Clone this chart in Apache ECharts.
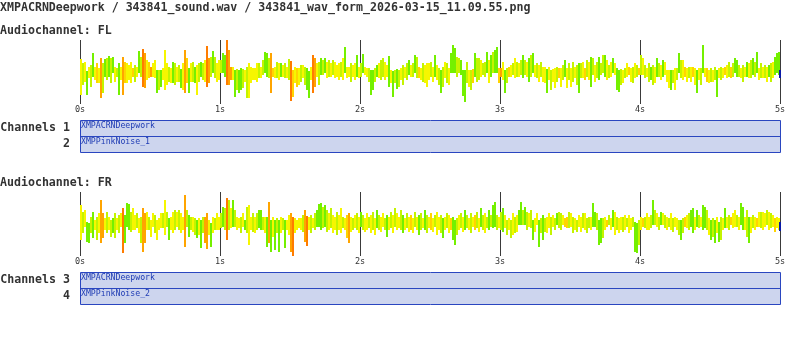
<!DOCTYPE html>
<html><head><meta charset="utf-8">
<script src="https://cdn.jsdelivr.net/npm/echarts@6/dist/echarts.min.js"></script>
<style>html,body{margin:0;padding:0;background:#fff}#c{width:800px;height:362px}</style>
</head><body><div id="c"></div>
<script>
// ---------- data ----------
const titleText = 'XMPACRNDeepwork / 343841_sound.wav / 343841_wav_form_2026-03-15_11.09.55.png';
const channelNames = ['FL', 'FR'];
const trackNumbers = [[1, 2], [3, 4]];
const trackNames = [['XMPACRNDeepwork', 'XMPPinkNoise_1'], ['XMPACRNDeepwork', 'XMPPinkNoise_2']];
const durationSec = 5;
const tickLabels = ['0s', '1s', '2s', '3s', '4s', '5s'];

// per-column peak envelope (max above / min below centre), 350 columns over 5 s
const flMax = [
13,9,10,1,5,7,19,5,9,4, 14,9,13,14,16,14,15,5,4,9, 5,15,10,9,7,10,4,7,5,21, 15,23,19,12,10,5,9,12,2,2,
2,4,22,9,5,4,10,9,5,7, 3,9,22,14,4,9,10,5,7,9, 10,9,12,26,14,15,21,15,9,12, 12,19,17,32,22,5,5,2,3,2,
4,3,2,5,9,5,4, 4,9,9,5,12,20,19,14,19,4, 5,10,9,9,7,9,5,13,11,2, 5,4,4,7,7,5,4,1,5,17,
14,9,10,14,12,14,10,12,9,12, 10,7,9,10,14,25,5,5,9,7, 9,17,5,9,18,5,4,4,2,2, 4,7,9,12,14,10,7,16,2,1,
2,3,2,4,7,5,9,12,7,9, 17,15,5,4,9,7,9, 9,10,5,17,7,4,2,5,10,9, 4,19,27,24,15,14,12,2,2,10,
2,2,3,19,14,14,12,9,10,20, 12,17,20,22,25,4,4,10,2,4, 5,7,9,14,10,9,12,17,12,10, 14,17,19,7,9,7,10,5,5,3,
5,2,3,4,5,4,4,7,12,4, 9,4,10,5,7,9,9,10,4,12, 10,15,14,7,10,15,9,17, 17,12,7,10,14,9,4,2,3,2,
4,9,5,4,5,9,7,4,17,14, 7,4,9,5,7,5,14,9,7,12, 10,2,2,2,2,4,4,19,12,12, 5,4,5,5,5,4,2,4,4,27,
4,4,2,4,2,5,2,4,5,4, 5,7,10,5,9,14,12,7,4,7, 5,10,9,12,14,10,20,4,9,5, 7,5,7,9,10,15,19,20];
const flMin = [
-23,-13,-10,-23,-6,-15,-5,-8,-11,-11, -26,-21,-5,-8,-5,-11,-1,-10,-5,-23, -8,-23,-11,-11,-8,-11,-5,-10,-5,-1, -5,-15,-16,-8,-6,-5,-5,-6,-21,-18,
-15,-8,-18,-13,-10,-11,-11,-13,-10,-10, -16,-18,-21,-11,-21,-10,-10,-11,-23,-10, -5,-8,-10,-15,-11,-5,-1,-6,-10,-8, -1,-1,-5,-13,-13,-8,-8,-25,-18,-21,
-18,-16,-10,-26,-26,-11,-8, -8,-10,-6,-6,-3,-1,-5,-6,-21,-5, -6,-6,-8,-5,-5,-6,-6,-8,-29,-25, -11,-15,-13,-10,-6,-13,-18,-26,-8,-21,
-15,-5,-13,-3,-3,-1,-6,-5,-5,-3, -6,-5,-8,-5,-8,-1,-6,-5,-10,-5, -8,-5,-6,-5,-1,-3,-5,-10,-23,-18, -10,-5,-6,-8,-5,-8,-5,-15,-11,-25,
-11,-17,-15,-8,-13,-6,-8,-3,-5,-5, -1,-6,-6,-8,-10,-11,-15, -8,-5,-10,-5,-8,-13,-21,-15,-6,-11, -13,-1,-1,-1,-5,-1,-3,-24,-30,-11,
-15,-18,-11,-5,-10,-8,-5,-3,-5,-1, -11,-5,-1,-1,-1,-11,-5,-8,-21,-11, -5,-5,-3,-6,-5,-5,-3,-6,-3,-5, -10,-5,-1,-5,-6,-10,-5,-10,-11,-21,
-8,-18,-10,-16,-10,-6,-15,-8,-5,-16, -8,-15,-10,-6,-13,-21,-6,-6,-8,-5, -8,-15,-3,-10,-6,-8,-3,-1, -5,-8,-6,-5,-1,-3,-18,-20,-13,-11,
-6,-5,-3,-10,-11,-6,-5,-3,-3,-3, -6,-5,-10,-8,-13,-11,-5,-5,-8,-5, -3,-10,-16,-18,-11,-18,-8,-1,-6,-8, -5,-10,-6,-10,-5,-13,-21,-8,-13,-1,
-5,-10,-11,-10,-10,-8,-25,-6,-8,-6, -3,-6,-5,-6,-5,-1,-5,-5,-6,-10, -5,-5,-6,-6,-3,-5,-1,-8,-6,-6, -6,-10,-5,-10,-6,-3,-1,-3];
// spectral tone per column: 0 green .. 5 dark orange
const flTone = [
2,1,2,0,2,1,0,2,3,2, 4,1,0,1,0,1,0,2,1,0, 2,4,3,2,2,2,3,1,2,0, 1,5,4,2,3,4,2,2,0,1,
0,2,2,2,1,2,0,1,2,1, 0,2,4,3,0,2,1,0,2,1, 0,1,2,5,4,1,0,1,2,2, 1,0,0,5,4,4,2,0,1,0,
0,1,2,1,2,2,2, 2,2,1,2,1,0,0,1,4,3, 2,1,2,0,2,1,2,1,5,3, 2,3,2,1,2,1,0,0,2,5,
4,2,1,0,1,0,2,1,2,1, 2,2,2,1,2,0,2,2,1,2, 2,0,2,1,0,2,2,1,0,0, 1,0,2,1,1,2,2,0,2,0,
1,0,1,2,1,2,1,0,2,1, 0,1,3,2,1,2,2, 2,1,2,0,2,1,0,1,2,1, 2,0,0,0,1,1,0,0,0,1,
2,1,3,0,1,1,2,1,1,0, 2,0,1,0,0,3,4,2,0,1, 3,2,1,2,1,2,1,0,1,2, 0,1,0,2,1,2,1,2,2,0,
2,1,2,2,1,3,2,1,0,2, 1,2,1,2,1,0,1,2,3,1, 2,0,1,2,1,0,1,1, 0,2,1,2,0,2,0,0,1,2,
1,2,3,2,1,2,1,3,1,2, 1,2,1,0,1,2,0,1,2,0, 2,2,2,0,1,2,1,0,1,2, 3,2,1,2,3,2,0,2,1,0,
2,3,2,1,2,1,0,2,1,2, 3,2,1,3,1,0,0,1,2,1, 2,0,2,1,0,1,0,2,1,2, 1,2,0,1,2,0,0,0];

const frMax = [
19,12,14,2,1,7,12,4,7,11, 24,11,6,12,7,4,6,11,6,9, 11,16,9,21,20,12,16,9,11,6, 7,16,11,12,7,4,11,9,4,6,
11,11,24,12,6,7,12,14,12,14, 11,7,29,14,9,7,7,6,4,6, 4,7,7,11,4,1,7,6,11,7, 11,17,16,26,24,16,24,14,7,6,
7,11,4,17,19,7,11,7,11,14, 14,7,7,7,22,4,7,4,6,4, 7,6,4,4,9,11,7,6,4,6, 6,9,14,8,7,9,6,11,14,20,
21,17,19,14,11,16,9,7,12,9, 16,7,6,9,11,7,6,9,11,7, 12,9,6,11,7,9,12,6,14,9, 7,11,6,9,7,12,9,16,11,7,
14,9,6,11,7,9,6,12,7,9, 11,6,14,9,7,11,6,9,12,7, 9,6,7,11,9,6,7,4,6,9, 11,7,14,9,6,11,7,9,12,6,
16,9,11,7,14,9,19,22,9,7, 12,16,9,4,6,4,11,7,9,14, 22,14,17,12,11,14,4,6,11,4, 6,9,6,7,11,7,9,6,11,12,
11,9,6,7,12,11,7,6,4,9, 7,11,11,6,7,7,21,12,11,4, 6,6,7,4,9,6,14,12,7,6, 7,7,9,6,9,6,7,2,1,4,
7,6,7,11,7,9,24,14,11,7, 12,11,9,7,6,11,6,7,6,4, 4,6,7,9,11,14,16,7,14,9, 7,19,17,14,6,4,6,4,7,2,
7,6,16,7,9,7,11,14,9,7, 21,17,7,14,7,7,9,7,6,12, 12,12,11,14,12,11,9,6,7,6];
const frMin = [
-16,-9,-3,-18,-19,-9,-14,-6,-16,-9, -19,-14,-6,-9,-6,-13,-9,-14,-6,-9, -3,-29,-19,-3,-6,-8,-6,-6,-4,-9, -19,-28,-19,-6,-6,-13,-3,-9,-16,-6,
-4,-4,-11,-3,-16,-6,-9,-6,-3,-6, -9,-6,-23,-3,-13,-6,-8,-11,-14,-11, -24,-9,-19,-25,-11,-23,-9,-6,-6,-6, -4,-3,-6,-16,-6,-4,-3,-3,-6,-4,
-9,-3,-6,-9,-21,-6,-8,-9,-6,-4, -6,-6,-9,-23,-19,-28,-13,-26,-9,-28, -9,-6,-24,-6,-11,-28,-32,-9,-6,-4, -6,-8,-18,-22,-6,-9,-4,-6,-3,-3,
-6,-4,-3,-8,-6,-4,-9,-6,-11,-6, -9,-4,-6,-14,-19,-8,-6,-4,-6,-9, -3,-6,-8,-6,-4,-9,-6,-11,-4,-6, -8,-3,-6,-13,-6,-4,-9,-3,-6,-4,
-6,-9,-6,-4,-8,-6,-9,-3,-6,-11, -6,-4,-6,-9,-4,-6,-8,-3,-11,-6, -9,-14,-6,-4,-9,-6,-16,-21,-11,-6, -4,-8,-6,-4,-6,-9,-3,-6,-4,-8,
-3,-6,-9,-4,-6,-3,-4,-3,-6,-4, -6,-8,-4,-11,-6,-14,-11,-9,-8,-1, -1,-1,-1,-6,-3,-4,-16,-8,-1,-23, -9,-16,-8,-9,-4,-11,-3,-6,-1,-4,
-6,-1,-3,-4,-4,-3,-9,-6,-8,-3, -8,-4,-6,-9,-4,-6,-3,-3,-6,-21, -19,-14,-6,-3,-1,-6,-3,-11,-6,-9, -6,-8,-6,-3,-9,-6,-3,-28,-29,-21,
-6,-3,-4,-6,-6,-4,-1,-1,-3,-6, -1,-1,-4,-6,-3,-6,-8,-3,-6,-11, -16,-9,-3,-4,-6,-3,-9,-6,-3,-4, -3,-6,-4,-6,-11,-16,-13,-19,-9,-18,
-16,-6,-4,-4,-6,-1,-4,-3,-3,-6, -1,-6,-6,-13,-19,-9,-4,-6,-3,-3, -4,-6,-3,-1,-6,-4,-3,-8,-4,-6];
const frTone = [
2,1,2,0,0,1,0,2,1,2, 4,4,2,1,2,1,0,1,2,1, 2,5,0,0,0,1,2,2,1,2, 1,4,4,2,1,2,2,1,2,2,
2,1,2,1,0,2,2,1,2,1, 2,2,4,1,0,1,2,1,0,2, 0,1,4,4,2,0,2,1,2,2, 1,0,1,5,1,2,0,1,2,2,
1,2,0,1,2,2,1,2,1,0, 0,1,2,0,4,0,2,0,1,0, 2,1,0,2,2,4,5,2,2,2, 2,1,4,5,2,1,2,1,0,0,
0,1,0,1,2,1,2,2,1,2, 2,1,2,3,4,2,1,2,1,2, 0,1,2,2,1,2,1,2,0,1, 2,2,1,0,2,1,2,1,2,2,
1,0,2,1,2,3,2,1,2,0, 1,2,0,1,2,3,2,1,2,2, 1,0,2,1,2,3,0,0,1,2, 1,2,0,1,2,1,2,3,1,2,
0,1,2,1,0,1,0,0,1,2, 1,0,2,1,2,1,2,1,2,0, 0,1,0,1,2,1,0,2,2,0, 1,0,1,2,2,1,2,1,0,1,
1,2,3,3,1,2,1,2,1,2, 2,1,2,1,1,2,0,0,1,0, 0,1,2,3,1,2,0,2,1,2, 2,1,2,1,2,2,1,0,0,1,
2,3,1,2,2,1,0,1,2,1, 0,2,1,2,1,2,1,2,2,1, 0,1,3,2,1,0,0,2,0,1, 2,0,0,1,2,0,1,0,2,0,
1,2,0,2,1,3,2,2,1,2, 0,0,2,1,0,2,1,2,3,2, 1,2,2,1,2,1,2,3,2,2];
// final sample marker (max, min) per channel
const endMax = [2, 2];
const endMin = [-6, -7];

// ---------- styling / layout ----------
const palette = ['#74f000', '#c4f400', '#f6f600', '#ffd400', '#ffa400', '#ff7c00'];
const mono = '"DejaVu Sans Mono", monospace';
const textColor = '#333333';
const boxFill = '#cdd5ee', boxStroke = '#2a46c0', boxText = '#1f3cb4';
const sections = [
  {max: flMax, min: flMin, tone: flTone, top: 40},
  {max: frMax, min: frMin, tone: frTone, top: 192}
];
const plotLeft = 80, plotWidth = 700, plotHeight = 64, amp = 32;

const grids = [], xAxes = [], yAxes = [], series = [], graphics = [];
graphics.push({type: 'text', left: 0, top: 2, style: {text: titleText, font: 'bold 11.6px ' + mono, fill: textColor}});

sections.forEach((s, k) => {
  const n = s.max.length, step = durationSec / n;
  grids.push({left: plotLeft, top: s.top, width: plotWidth, height: plotHeight});
  xAxes.push({
    type: 'value', gridIndex: k, min: 0, max: durationSec, interval: 1,
    axisLine: {show: false}, axisTick: {show: false},
    splitLine: {show: true, lineStyle: {color: '#3a3a3a', width: 1}},
    axisLabel: {margin: 1, fontSize: 8.5, fontFamily: mono, color: textColor,
      formatter: v => tickLabels[Math.round(v)]}
  });
  yAxes.push({type: 'value', gridIndex: k, min: -amp, max: amp, show: false});
  series.push({
    type: 'custom', xAxisIndex: k, yAxisIndex: k, silent: true, animation: false,
    data: s.max.map((v, i) => [i * step, v, s.min[i], s.tone[i]]),
    encode: {x: 0, y: [1, 2]},
    renderItem: (params, api) => {
      const a = api.coord([api.value(0), api.value(1)]);
      const b = api.coord([api.value(0), api.value(2)]);
      const w = api.size([step, 0])[0];
      return {type: 'rect', shape: {x: a[0], y: a[1], width: w, height: Math.max(1, b[1] - a[1])},
        style: {fill: palette[api.value(3)]}};
    }
  });
  series.push({
    type: 'custom', xAxisIndex: k, yAxisIndex: k, silent: true, animation: false,
    data: [[durationSec, endMax[k], endMin[k]]],
    renderItem: (params, api) => {
      const a = api.coord([api.value(0), api.value(1)]);
      const b = api.coord([api.value(0), api.value(2)]);
      return {type: 'rect', shape: {x: a[0] - 1, y: a[1], width: 2, height: b[1] - a[1]}, style: {fill: '#0a1aa8'}};
    }
  });
  // channel header
  const headY = s.top - 9;
  graphics.push({type: 'text', left: 0, top: headY - 6, style: {text: 'Audiochannel: ' + channelNames[k], font: 'bold 11.6px ' + mono, fill: textColor}});
  // track box
  const bt = s.top + 80;
  graphics.push({type: 'rect', shape: {x: plotLeft + 0.5, y: bt + 0.5, width: plotWidth, height: 32},
    style: {fill: boxFill, stroke: boxStroke, lineWidth: 1}});
  graphics.push({type: 'line', shape: {x1: plotLeft, y1: bt + 16.5, x2: plotLeft + plotWidth, y2: bt + 16.5},
    style: {stroke: boxStroke, lineWidth: 1}});
  trackNames[k].forEach((nm, j) => {
    graphics.push({type: 'text', x: plotLeft + 1, y: bt + 6 + 16 * j,
      style: {text: nm, font: '8.2px ' + mono, fill: boxText, verticalAlign: 'middle'}});
    graphics.push({type: 'text', x: 70, y: bt + 7.5 + 16 * j,
      style: {text: (j === 0 ? 'Channels ' : '') + trackNumbers[k][j], font: 'bold 11.6px ' + mono,
        fill: textColor, align: 'right', verticalAlign: 'middle'}});
  });
});

const chart = echarts.init(document.getElementById('c'));
chart.setOption({
  animation: false, backgroundColor: '#ffffff',
  grid: grids, xAxis: xAxes, yAxis: yAxes, series: series, graphic: graphics
});
</script></body></html>
